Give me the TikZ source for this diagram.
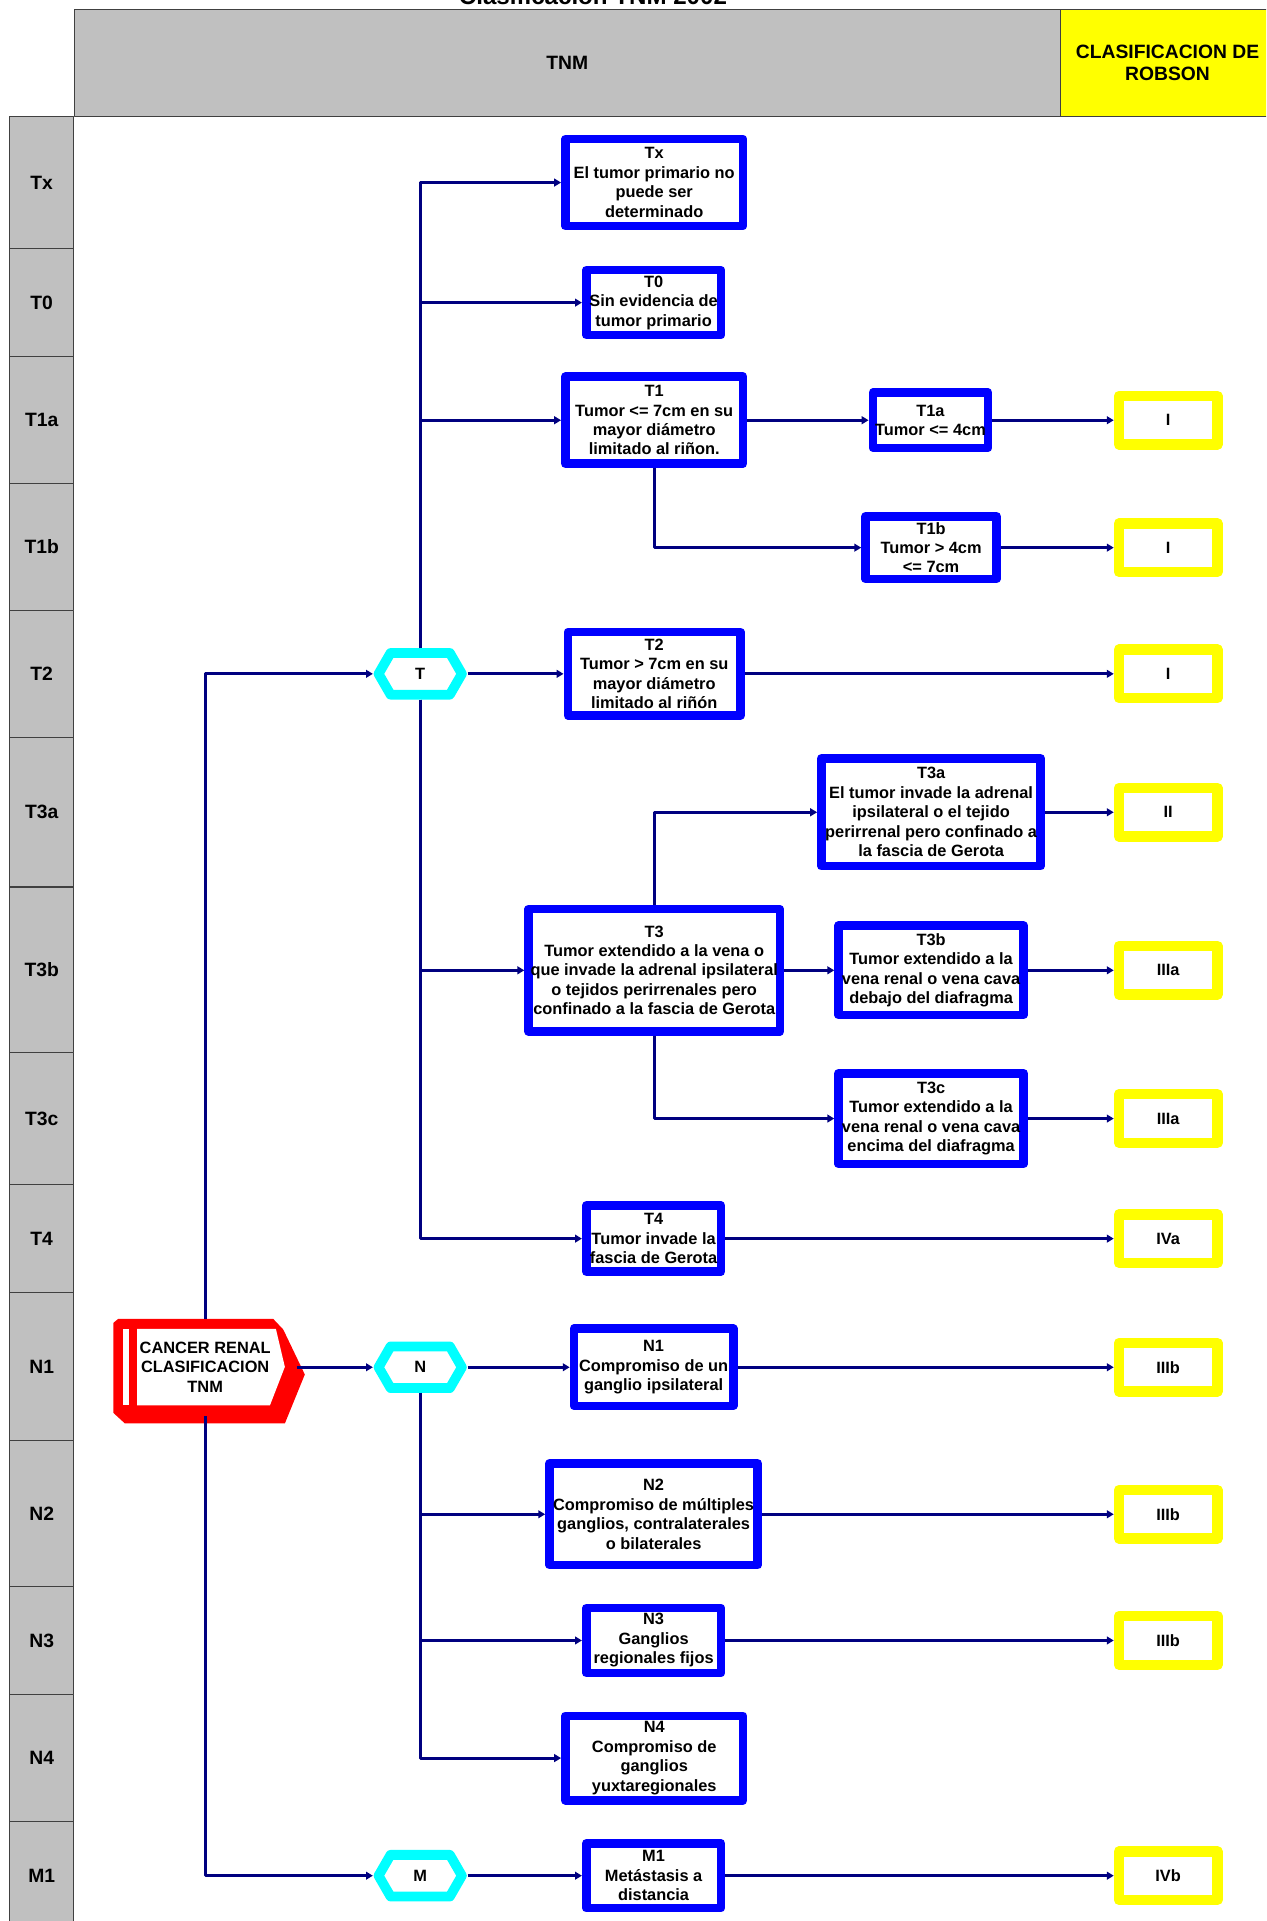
\documentclass[tikz,border=0pt]{standalone}
\usepackage{fontspec}
\setmainfont{Liberation Sans}
\usetikzlibrary{arrows.meta,shapes.symbols}
\definecolor{hdrgray}{RGB}{192,192,192}
\definecolor{linenavy}{RGB}{0,0,128}
\definecolor{boxblue}{RGB}{0,0,255}
\definecolor{hexcyan}{RGB}{0,255,255}
\definecolor{robyellow}{RGB}{255,255,0}
\definecolor{startred}{RGB}{255,0,0}
\tikzset{
  txt/.style={font=\fontsize{9.5}{11.3}\selectfont\bfseries},
  hdr/.style={font=\fontsize{11.2}{12.8}\selectfont\bfseries, inner sep=0pt},
  cell/.style={draw=black!75, line width=0.6pt, fill=hdrgray},
  tbox/.style={txt, draw=boxblue, line width=1.75mm, fill=white, inner sep=0pt, align=center},
  rbox/.style={txt, draw=robyellow, line width=2.1mm, fill=white, inner sep=0pt,
    minimum width=2.01cm, minimum height=0.99cm},
  hexa/.style={txt, shape=signal, signal to=east and west, signal pointer angle=120,
    draw=hexcyan, line width=2mm, fill=white, inner sep=0pt,
    minimum width=1.7cm, minimum height=0.85cm},
  link/.style={draw=linenavy, line width=1.7pt},
}
\begin{document}
\begin{tikzpicture}[x=0.025cm, y=-0.025cm, >={Triangle[length=4pt,width=4.5pt]}, line join=round]
\useasboundingbox (0,0) rectangle (1033.4,1568);
\clip (0,0) rectangle (1033.4,1568);

% titulo y cabecera
\node[anchor=base, font=\fontsize{14}{16}\selectfont\bfseries] (title) at (484,3.3) {Clasificación TNM 2002};
\draw[cell] (61,8) rectangle (866,95);
\draw[draw=black!75, line width=0.6pt, fill=robyellow] (866,8) rectangle (1045,95);
\node[hdr] (hTNM) at (463,51) {TNM};
\node[hdr, align=center] (hRobson) at (953,51) {CLASIFICACION DE\\ROBSON};

% columna izquierda
\foreach \lab/\top/\bot in {Tx/95/203, T0/203/291, T1a/291/395, T1b/395/498, T2/498/602,
  T3a/602/724, T3b/724/859, T3c/859/967, T4/967/1055, N1/1055/1176, N2/1176/1295,
  N3/1295/1383, N4/1383/1487, M1/1487/1575}{
  \draw[cell] (8,\top) rectangle (60,\bot);
  \node[hdr] (l\lab) at (34,{(\top+\bot)/2}) {\lab};
}

% inicio
\fill[startred] (96.5,1076.5) -- (223,1076.5) -- (231.2,1085.2) -- (248.8,1121.9) -- (232.5,1161.9)
  -- (102,1161.9) -- (92.5,1153.2) -- (92.5,1079.8) -- cycle;
\fill[white] (112,1084.7) -- (225.2,1084.7) -- (232.5,1115.7) -- (220.3,1147.2) -- (112,1147.2) -- cycle;
\fill[white] (100.6,1084.7) rectangle (105,1147.2);
\node[txt, align=center, inner sep=0pt, minimum width=3.725cm, minimum height=1.975cm] (cancer)
  at (167.5,1116) {CANCER RENAL\\CLASIFICACION\\TNM};

% T, N, M
\node[hexa] (hT) at (343,550) {T};
\node[hexa] (hN) at (343,1116) {N};
\node[hexa] (hM) at (343,1531) {M};

% cajas TNM
\node[tbox, minimum width=3.625cm, minimum height=1.775cm] (bTx) at (534,149) {Tx\\El tumor primario no\\puede ser\\determinado};
\node[tbox, minimum width=2.75cm, minimum height=1.325cm] (bT0) at (533.5,247) {T0\\Sin evidencia de\\tumor primario};
\node[tbox, minimum width=3.625cm, minimum height=1.775cm] (bT1) at (534,343) {T1\\Tumor <= 7cm en su\\mayor diámetro\\limitado al riñon.};
\node[tbox, minimum width=2.35cm, minimum height=1.125cm] (bT1a) at (759.5,343) {T1a\\Tumor <= 4cm};
\node[tbox, minimum width=2.675cm, minimum height=1.275cm] (bT1b) at (760,447) {T1b\\Tumor > 4cm\\<= 7cm};
\node[tbox, minimum width=3.525cm, minimum height=1.7cm] (bT2) at (534,550) {T2\\Tumor > 7cm en su\\mayor diámetro\\limitado al riñón};
\node[tbox, minimum width=4.475cm, minimum height=2.2cm] (bT3a) at (760,663) {T3a\\El tumor invade la adrenal\\ipsilateral o el tejido\\perirrenal pero confinado a\\la fascia de Gerota};
\node[tbox, minimum width=5.125cm, minimum height=2.5cm] (bT3) at (534,792) {T3\\Tumor extendido a la vena o\\que invade la adrenal ipsilateral\\o tejidos perirrenales pero\\confinado a la fascia de Gerota};
\node[tbox, minimum width=3.775cm, minimum height=1.825cm] (bT3b) at (760,792) {T3b\\Tumor extendido a la\\vena renal o vena cava\\debajo del diafragma};
\node[tbox, minimum width=3.775cm, minimum height=1.85cm] (bT3c) at (760,913) {T3c\\Tumor extendido a la\\vena renal o vena cava\\encima del diafragma};
\node[tbox, minimum width=2.75cm, minimum height=1.35cm] (bT4) at (533.5,1011) {T4\\Tumor invade la\\fascia de Gerota};
\node[tbox, minimum width=3.25cm, minimum height=1.575cm] (bN1) at (533.5,1116) {N1\\Compromiso de un\\ganglio ipsilateral};
\node[tbox, minimum width=4.25cm, minimum height=2.075cm] (bN2) at (533.5,1236) {N2\\Compromiso de múltiples\\ganglios, contralaterales\\o bilaterales};
\node[tbox, minimum width=2.75cm, minimum height=1.325cm] (bN3) at (533.5,1339) {N3\\Ganglios\\regionales fijos};
\node[tbox, minimum width=3.625cm, minimum height=1.725cm] (bN4) at (534,1435) {N4\\Compromiso de\\ganglios\\yuxtaregionales};
\node[tbox, minimum width=2.75cm, minimum height=1.325cm] (bM1) at (533.5,1531) {M1\\Metástasis a\\distancia};

% clasificacion de Robson
\foreach \n/\y/\t in {T1a/343/I, T1b/447/I, T2/550/I, T3a/663/II, T3b/792/IIIa, T3c/913/IIIa,
  T4/1011/IVa, N1/1116/IIIb, N2/1236/IIIb, N3/1339/IIIb, M1/1531/IVb}
  \node[rbox] (r\n) at (953.5,\y) {\t};

% conexiones
\draw[link,->] (cancer.north) |- (hT.west);
\draw[link,->] (cancer.east) -- (hN.west);
\draw[link,->] (cancer.south) |- (hM.west);
\draw[link,->] (hT.north) |- (bTx.west);
\draw[link,->] (hT.north) |- (bT0.west);
\draw[link,->] (hT.north) |- (bT1.west);
\draw[link,->] (hT.east) -- (bT2.west);
\draw[link,->] (hT.south) |- (bT3.west);
\draw[link,->] (hT.south) |- (bT4.west);
\draw[link,->] (bT1.east) -- (bT1a.west);
\draw[link,->] (bT1.south) |- (bT1b.west);
\draw[link,->] (bT3.north) |- (bT3a.west);
\draw[link,->] (bT3.east) -- (bT3b.west);
\draw[link,->] (bT3.south) |- (bT3c.west);
\draw[link,->] (hN.east) -- (bN1.west);
\draw[link,->] (hN.south) |- (bN2.west);
\draw[link,->] (hN.south) |- (bN3.west);
\draw[link,->] (hN.south) |- (bN4.west);
\draw[link,->] (hM.east) -- (bM1.west);
\foreach \n in {T1a,T1b,T2,T3a,T3b,T3c,T4,N1,N2,N3,M1}
  \draw[link,->] (b\n.east) -- (r\n.west);
\end{tikzpicture}
\end{document}
